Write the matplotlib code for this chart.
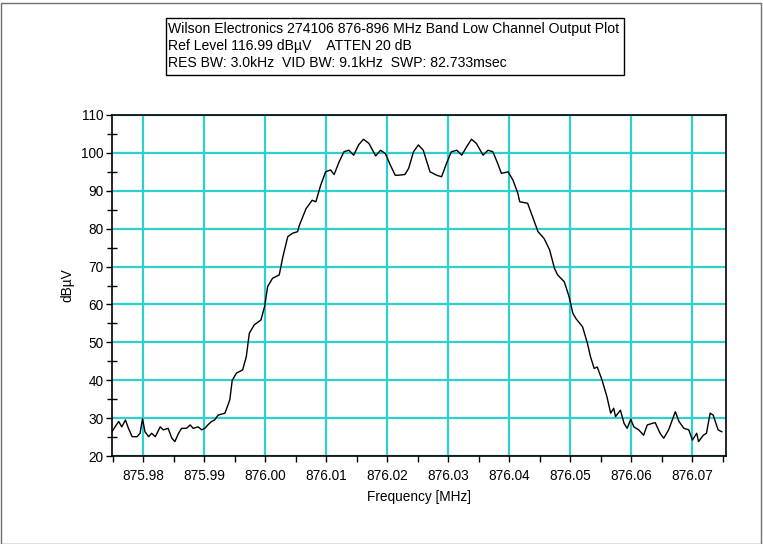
import matplotlib
matplotlib.use("Agg")
import matplotlib.pyplot as plt
from matplotlib.ticker import MultipleLocator, FormatStrFormatter
from matplotlib.patches import Rectangle

plt.rcParams['font.family'] = ['Liberation Sans', 'DejaVu Sans']

# Frequency offsets (kHz) from 876.000 MHz, and level (dBuV)
offset_khz = [
    -25.1, -24.6, -24.0, -23.5, -22.9, -22.4, -21.8, -21.0, -20.5, -20.1,
    -19.7, -19.1, -18.6, -18.0, -17.2, -16.7, -15.9, -15.3, -14.8, -14.2,
    -13.7, -12.9, -12.3, -11.8, -11.0, -10.4, -9.9, -9.4, -8.8, -8.3,
    -7.7, -6.6, -5.8, -5.4, -4.7, -3.7, -3.1, -2.6, -1.8, -0.7,
    -0.1, 0.4, 1.2, 2.3, 2.9, 3.7, 4.5, 5.3, 5.6, 6.7,
    7.7, 8.3, 9.1, 9.9, 10.7, 11.3, 12.1, 12.9, 13.7, 14.5,
    15.3, 16.1, 17.0, 18.1, 18.9, 19.7, 20.5, 21.3, 21.8, 22.9,
    23.5, 24.3, 25.1, 25.9, 26.5, 27.0, 28.1, 28.9, 29.7, 30.5,
    31.4, 32.2, 33.0, 33.8, 34.6, 35.7, 36.5, 37.3, 38.1, 38.7,
    39.8, 40.6, 41.4, 41.7, 43.0, 43.8, 44.7, 45.7, 46.6, 47.4,
    47.9, 49.0, 49.8, 50.4, 50.9, 52.0, 52.8, 53.3, 53.9, 54.4,
    55.2, 56.0, 56.6, 57.1, 57.4, 58.2, 58.8, 59.3, 59.9, 60.4,
    61.2, 62.0, 62.6, 63.4, 63.9, 64.7, 65.3, 66.1, 67.2, 67.8,
    68.6, 69.4, 70.0, 70.7, 71.0, 71.8, 72.3, 72.9, 73.4, 74.2,
    74.8,
]
level_dbuv = [
    26.4, 27.7, 29.1, 27.7, 29.5, 27.3, 25.1, 25.1, 26.0, 29.8,
    26.4, 25.1, 26.0, 25.1, 27.7, 26.9, 27.3, 24.7, 23.8, 26.0,
    27.3, 27.3, 28.2, 27.3, 27.7, 26.9, 27.3, 28.2, 29.1, 29.5,
    30.8, 31.3, 34.8, 40.0, 41.9, 42.7, 46.2, 52.4, 54.6, 55.9,
    59.4, 64.7, 66.9, 67.8, 72.6, 77.9, 78.8, 79.2, 80.9, 85.3,
    87.5, 87.1, 91.5, 95.0, 95.5, 94.3, 97.6, 100.3, 100.7, 99.4,
    102.1, 103.6, 102.5, 99.2, 100.7, 99.8, 96.8, 94.1, 94.1, 94.3,
    95.9, 100.3, 102.1, 100.7, 97.6, 95.0, 94.1, 93.7, 97.2, 100.3,
    100.7, 99.4, 101.6, 103.6, 102.5, 99.4, 100.7, 100.3, 97.2, 94.6,
    95.0, 92.8, 89.3, 87.1, 86.7, 83.2, 79.2, 77.4, 74.4, 69.5,
    67.8, 66.0, 62.0, 57.7, 56.3, 54.1, 49.7, 46.2, 43.1, 43.5,
    40.0, 35.6, 31.3, 32.6, 30.4, 32.1, 28.6, 27.3, 29.7, 27.7,
    26.9, 25.5, 28.2, 28.6, 28.8, 26.0, 24.7, 26.9, 31.7, 29.1,
    27.3, 26.9, 24.2, 26.0, 23.8, 25.5, 26.0, 31.3, 30.8, 26.9,
    26.4,
]
center_mhz = 876.0
freq_mhz = [center_mhz + k / 1000.0 for k in offset_khz]

info_lines = [
    "Wilson Electronics 274106 876-896 MHz Band Low Channel Output Plot",
    "Ref Level 116.99 dB\u00b5V    ATTEN 20 dB",
    "RES BW: 3.0kHz  VID BW: 9.1kHz  SWP: 82.733msec",
]

W, H = 763, 544
fig = plt.figure(figsize=(W / 100, H / 100), dpi=100)
ax = fig.add_axes([112 / W, 1 - 456 / H, (726 - 112) / W, (456 - 115) / H])

grid_col = '#2ECFCF'
ax.plot(freq_mhz, level_dbuv, color='black', lw=1.0, zorder=3)

ax.set_xlim(875.9749, 876.0755)
ax.set_ylim(20, 110)
ax.xaxis.set_major_locator(MultipleLocator(0.01))
ax.xaxis.set_minor_locator(MultipleLocator(0.005))
ax.yaxis.set_major_locator(MultipleLocator(10))
ax.yaxis.set_minor_locator(MultipleLocator(5))
ax.xaxis.set_major_formatter(FormatStrFormatter('%.2f'))
ax.grid(True, which='major', color=grid_col, lw=1.6, zorder=1)
ax.set_axisbelow(True)

ax.tick_params(axis='x', which='both', direction='out', length=4, width=1,
               labelsize=9.8, pad=5, color='black')
ax.tick_params(axis='y', which='major', direction='out', length=4, width=1,
               labelsize=9.8, pad=2)
ax.tick_params(axis='y', which='minor', direction='inout', length=7, width=1)
for sp in ax.spines.values():
    sp.set_color('black')
    sp.set_linewidth(1.2)

fig.text(419 / W, 1 - 497 / H, "Frequency [MHz]", ha='center', va='center', fontsize=9.8)
fig.text(67 / W, 1 - 285 / H, "dB\u00b5V", ha='center', va='center', rotation=90, fontsize=9.8)

# info box
bx0, bx1, by0, by1 = 166, 624, 18, 75
fig.patches.append(Rectangle((bx0 / W, 1 - by1 / H), (bx1 - bx0) / W, (by1 - by0) / H,
                             transform=fig.transFigure, fill=False, edgecolor='black', lw=1.0))
for i, line in enumerate(info_lines):
    fig.text(168 / W, 1 - (29 + 17 * i) / H, line, ha='left', va='center', fontsize=10.1)

# outer frame
fig.patches.append(Rectangle((0.5 / W, 0.5 / H), (W - 3) / W, (H - 3) / H,
                             transform=fig.transFigure, fill=False, edgecolor='#707070', lw=1.0))

fig.savefig("out.png", dpi=100)
